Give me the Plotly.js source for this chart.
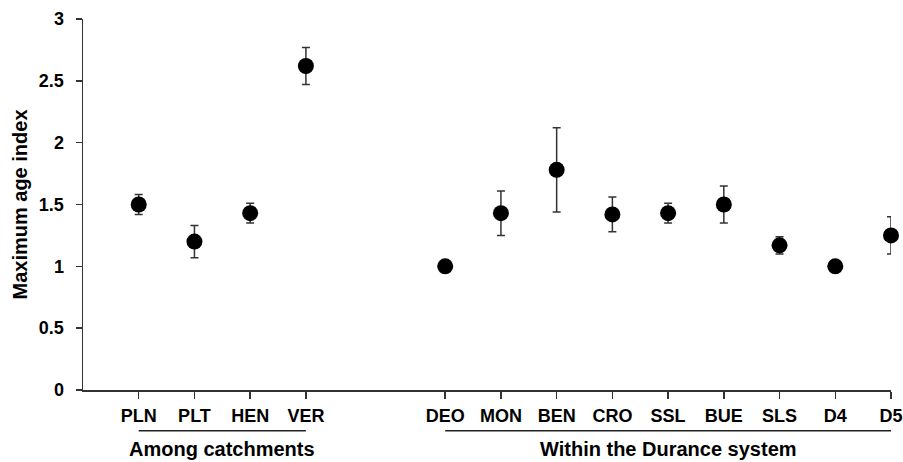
<!DOCTYPE html>
<html>
<head>
<meta charset="utf-8">
<script src="https://cdn.plot.ly/plotly-3.0.1.min.js"></script>
<style>html,body{margin:0;padding:0;background:#fff;}#chart{width:903px;height:462px;}</style>
</head>
<body>
<div id="chart"></div>
<script>
// Data
const sites = ["PLN", "PLT", "HEN", "VER", "DEO", "MON", "BEN", "CRO", "SSL", "BUE", "SLS", "D4", "D5"];
const maxAgeIndex = [1.50, 1.20, 1.43, 2.62, 1.00, 1.43, 1.78, 1.42, 1.43, 1.50, 1.17, 1.00, 1.25];
const errUp = [0.08, 0.13, 0.08, 0.15, 0, 0.18, 0.34, 0.14, 0.08, 0.15, 0.07, 0, 0.15];
const errDown = [0.08, 0.13, 0.08, 0.15, 0, 0.18, 0.34, 0.14, 0.08, 0.15, 0.07, 0, 0.15];
const groupNames = ["Among catchments", "Within the Durance system"];
const groupSizes = [4, 9];
const yTicks = [0, 0.5, 1, 1.5, 2, 2.5, 3];
const yTickText = ["0", "0.5", "1", "1.5", "2", "2.5", "3"];

// Positions along the x axis: groups separated by a gap
const GAP = 1.5;
const xPos = sites.map((s, i) => i < groupSizes[0] ? i : i + GAP);

const font = "Liberation Sans, Arial, Helvetica, sans-serif";

const trace = {
  type: "scatter",
  mode: "markers",
  x: xPos,
  y: maxAgeIndex,
  marker: {color: "#000", size: 16},
  error_y: {
    type: "data", symmetric: false,
    array: errUp, arrayminus: errDown,
    color: "#333", thickness: 1.5, width: 4
  },
  cliponaxis: false,
  hoverinfo: "x+y"
};

// Group brackets and labels
const shapes = [];
const annotations = [];
let start = 0;
groupSizes.forEach((n, g) => {
  const x0 = xPos[start], x1 = xPos[start + n - 1];
  shapes.push({type: "line", xref: "x", yref: "paper", x0: x0, x1: x1, y0: -0.11, y1: -0.11,
    line: {color: "#222", width: 1.5}});
  annotations.push({xref: "x", yref: "paper", x: (x0 + x1) / 2, y: -0.16, yanchor: "middle",
    text: "<b>" + groupNames[g] + "</b>", showarrow: false,
    font: {family: font, size: 20, color: "#000"}});
  start += n;
});

const layout = {
  width: 903, height: 462,
  margin: {l: 83, r: 12, t: 19, b: 72},
  paper_bgcolor: "#fff", plot_bgcolor: "#fff",
  showlegend: false,
  font: {family: font, color: "#000"},
  xaxis: {
    range: [-1, xPos[xPos.length - 1]],
    tickvals: xPos, ticktext: sites.map(s => "<b>" + s + "</b>"),
    showgrid: false, zeroline: false,
    showline: true, linecolor: "#333", linewidth: 1.5,
    ticks: "outside", ticklen: 7, tickwidth: 1.5, tickcolor: "#333",
    tickfont: {family: font, size: 18, color: "#000"},
    ticklabelstandoff: 2,
    fixedrange: true
  },
  yaxis: {
    range: [0, 3],
    tickvals: yTicks, ticktext: yTickText.map(t => "<b>" + t + "</b>"),
    showgrid: false, zeroline: false,
    showline: true, linecolor: "#333", linewidth: 1.5,
    ticks: "outside", ticklen: 6, tickwidth: 1.5, tickcolor: "#333",
    tickfont: {family: font, size: 18, color: "#000"},
    ticklabelstandoff: 8,
    title: {text: "<b>Maximum age index</b>", font: {family: font, size: 20, color: "#000"}, standoff: 6},
    fixedrange: true
  },
  shapes: shapes,
  annotations: annotations
};

Plotly.newPlot("chart", [trace], layout, {displayModeBar: false, staticPlot: true});
</script>
</body>
</html>
